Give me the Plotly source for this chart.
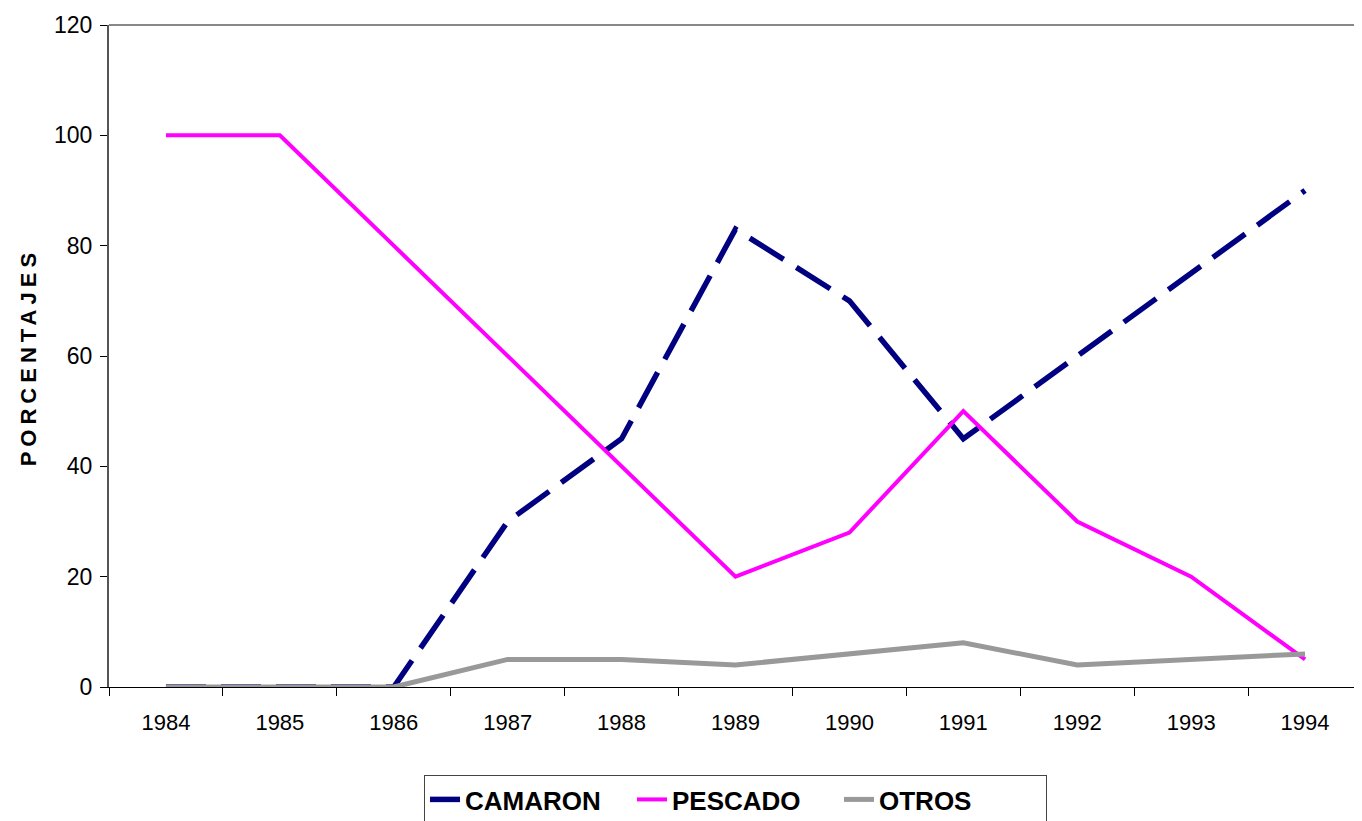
import plotly.graph_objects as go

# datos
anios = ['1984', '1985', '1986', '1987', '1988', '1989', '1990', '1991', '1992', '1993', '1994']
camaron = [0, 0, 0, 30, 45, 83, 70, 45, 60, 75, 90]
pescado = [100, 100, 80, 60, 40, 20, 28, 50, 30, 20, 5]
otros = [0, 0, 0, 5, 5, 4, 6, 8, 4, 5, 6]

fuente = 'Liberation Sans, Arial, sans-serif'

fig = go.Figure()

fig.add_trace(go.Scatter(x=anios, y=camaron, name='CAMARON', mode='lines',
                         line=dict(color='#000080', width=5.5, dash='40px,15px')))
fig.add_trace(go.Scatter(x=anios, y=pescado, name='PESCADO', mode='lines',
                         line=dict(color='#FF00FF', width=4)))
fig.add_trace(go.Scatter(x=anios, y=otros, name='OTROS', mode='lines',
                         line=dict(color='#999999', width=5)))

# la pagina html deja 8px de margen en el body
fig.update_layout(
    width=1354, height=813,
    margin={'l': 101, 'r': 0, 't': 17, 'b': 134, 'autoexpand': False},
    plot_bgcolor='white', paper_bgcolor='white',
    font=dict(family=fuente, size=22, color='black'),
    showlegend=True,
    legend=dict(orientation='h', x=(424 - 109) / 1253, xanchor='left',
                y=-(775 - 687) / 662, yanchor='top',
                font=dict(family=fuente, size=26, color='black', weight='bold'),
                bordercolor='#444444', borderwidth=1, bgcolor='white',
                itemwidth=30, tracegroupgap=0, entrywidth=162),
    xaxis=dict(type='category', range=[-0.5, 10.5], tickson='boundaries',
               ticks='outside', ticklen=8, tickcolor='black', tickwidth=1,
               showline=True, linecolor='black', linewidth=1,
               showgrid=False, zeroline=False, ticklabelstandoff=16,
               automargin=False, tickfont=dict(size=22)),
    yaxis=dict(range=[0, 120], dtick=20, ticks='outside', ticklen=7,
               tickcolor='black', tickwidth=1, ticklabelstandoff=3,
               showline=True, linecolor='#555555', linewidth=2,
               showgrid=False, zeroline=False, tickfont=dict(size=23),
               automargin=False),
    # titulo del eje y como anotacion para fijar su posicion
    annotations=[dict(text='<span style="letter-spacing:5px">PORCENTAJES</span>',
                      xref='paper', yref='paper', x=(28 - 109) / 1253, y=0.498,
                      xanchor='center', yanchor='middle', textangle=-90,
                      showarrow=False, font=dict(size=22, weight='bold'))],
    shapes=[dict(type='line', xref='paper', yref='paper', x0=0, x1=1, y0=1, y1=1,
                 line=dict(color='#888888', width=2))]
)

fig.write_html("out.html")
